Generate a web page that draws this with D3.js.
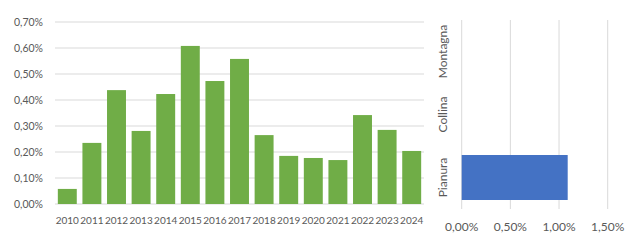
<!DOCTYPE html>
<html>
<head>
<meta charset="utf-8">
<script src="https://cdn.jsdelivr.net/npm/d3@7"></script>
<style>
  body { margin: 0; background: #fff; }
  text { font-family: Lato, "Open Sans", sans-serif; fill: #595959; }
</style>
</head>
<body>
<script>
// data (values in %)
var years = ["2010","2011","2012","2013","2014","2015","2016","2017","2018","2019","2020","2021","2022","2023","2024"];
var yearValues = [0.058, 0.235, 0.438, 0.281, 0.423, 0.608, 0.473, 0.558, 0.265, 0.185, 0.177, 0.169, 0.342, 0.285, 0.204];
var yTicks = [0, 0.1, 0.2, 0.3, 0.4, 0.5, 0.6, 0.7];

var zones = ["Montagna", "Collina", "Pianura"];
var zoneValues = [0, 0, 1.089];
var xTicks = [0, 0.5, 1.0, 1.5];

var fmt = function (v) { return d3.format(".2f")(v).replace(".", ",") + "%"; };

var svg = d3.select("body").append("svg")
    .attr("width", 630)
    .attr("height", 240);

/* ---- left: yearly columns ---- */
var x1 = d3.scaleBand().domain(years).range([55, 424]).paddingInner(0.23).paddingOuter(0.115);
var y1 = d3.scaleLinear().domain([0, 0.7]).range([204, 22]);

svg.append("g").selectAll("line")
    .data(yTicks)
    .enter().append("line")
    .attr("x1", 55).attr("x2", 424)
    .attr("y1", function (d) { return y1(d); })
    .attr("y2", function (d) { return y1(d); })
    .attr("stroke", "#d9d9d9")
    .attr("stroke-width", 1);

svg.append("g").selectAll("rect")
    .data(yearValues)
    .enter().append("rect")
    .attr("x", function (d, i) { return x1(years[i]); })
    .attr("width", x1.bandwidth())
    .attr("y", function (d) { return y1(d); })
    .attr("height", function (d) { return y1(0) - y1(d); })
    .attr("fill", "#70ad47");

svg.append("g").selectAll("text")
    .data(yTicks)
    .enter().append("text")
    .attr("x", 43)
    .attr("y", function (d) { return y1(d); })
    .attr("dy", "0.35em")
    .attr("text-anchor", "end")
    .attr("font-size", 10.5)
    .text(fmt);

svg.append("g").selectAll("text")
    .data(years)
    .enter().append("text")
    .attr("x", function (d) { return x1(d) + x1.bandwidth() / 2; })
    .attr("y", 220)
    .attr("dy", "0.35em")
    .attr("text-anchor", "middle")
    .attr("font-size", 10)
    .text(function (d) { return d; });

/* ---- right: horizontal bars by zone ---- */
var x2 = d3.scaleLinear().domain([0, 1.5]).range([461.7, 607.7]);
var y2 = d3.scaleBand().domain(zones).range([20, 209]).paddingInner(0.286).paddingOuter(0.143);

svg.append("g").selectAll("line")
    .data(xTicks)
    .enter().append("line")
    .attr("x1", function (d) { return x2(d); })
    .attr("x2", function (d) { return x2(d); })
    .attr("y1", 20).attr("y2", 209)
    .attr("stroke", "#d9d9d9")
    .attr("stroke-width", 1);

svg.append("g").selectAll("rect")
    .data(zoneValues)
    .enter().append("rect")
    .attr("x", x2(0))
    .attr("y", function (d, i) { return y2(zones[i]); })
    .attr("height", y2.bandwidth())
    .attr("width", function (d) { return x2(d) - x2(0); })
    .attr("fill", "#4472c4");

svg.append("g").selectAll("text")
    .data(xTicks)
    .enter().append("text")
    .attr("x", function (d) { return x2(d); })
    .attr("y", 227)
    .attr("dy", "0.35em")
    .attr("text-anchor", "middle")
    .attr("font-size", 12)
    .text(fmt);

svg.append("g").selectAll("text")
    .data(zones)
    .enter().append("text")
    .attr("transform", function (d) {
        return "translate(447," + (y2(d) + y2.bandwidth() / 2) + ") rotate(-90)";
    })
    .attr("text-anchor", "middle")
    .attr("font-size", 12)
    .text(function (d) { return d; });
</script>
</body>
</html>
